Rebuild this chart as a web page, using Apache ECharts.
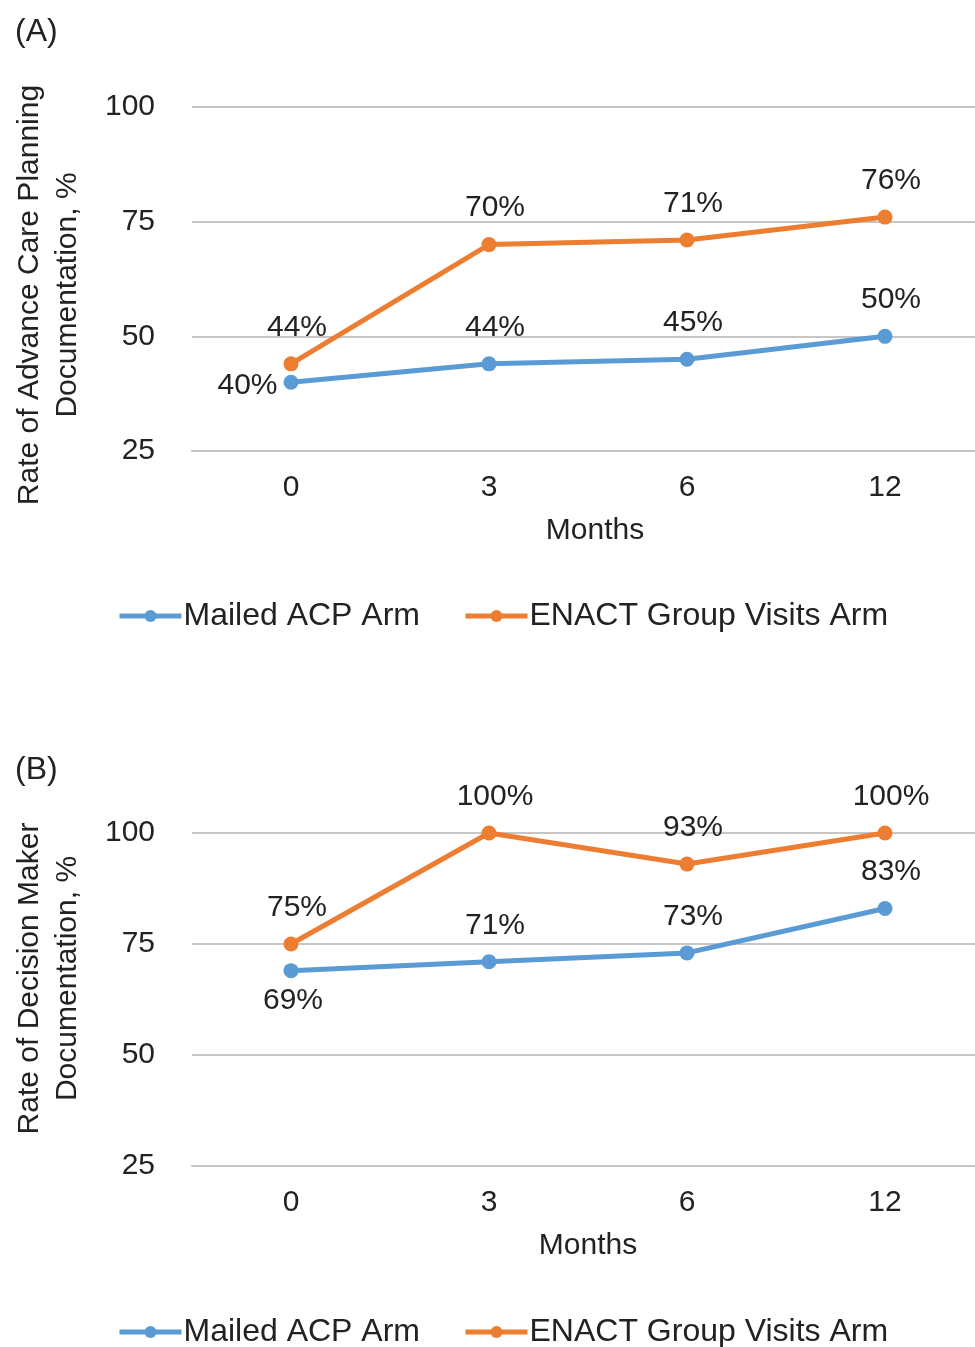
<!DOCTYPE html>
<html>
<head>
<meta charset="utf-8">
<script src="https://cdn.jsdelivr.net/npm/echarts@6/dist/echarts.min.js"></script>
<style>html,body{margin:0;padding:0;background:#fff;}#c{width:975px;height:1347px;}</style>
</head>
<body>
<div id="c"></div>
<script>
const months = ['0', '3', '6', '12'];
const yTicks = [25, 50, 75, 100];
const seriesNames = ['Mailed ACP Arm', 'ENACT Group Visits Arm'];
const acpMailed = [40, 44, 45, 50];
const acpEnact = [44, 70, 71, 76];
const dmMailed = [69, 71, 73, 83];
const dmEnact = [75, 100, 93, 100];
const panelLabels = ['(A)', '(B)'];
const yTitles = ['Rate of Advance Care Planning\nDocumentation, %', 'Rate of Decision Maker\nDocumentation, %'];
const xTitle = 'Months';

const BLUE = '#5b9bd5', ORANGE = '#ed7d31';
const FONT = '"Liberation Sans", Arial, sans-serif';
const FS = 30;
const chart = echarts.init(document.getElementById('c'));

function xAx(gi, namePad) {
  return {
    type: 'category', gridIndex: gi, data: months,
    axisLine: { show: true, lineStyle: { color: '#c6c6c6', width: 2 } },
    axisTick: { show: false },
    axisLabel: { fontFamily: FONT, fontSize: FS, color: '#222', margin: 22 },
    name: xTitle, nameLocation: 'middle', nameGap: 65,
    nameTextStyle: { fontFamily: FONT, fontSize: FS, color: '#222', padding: namePad }
  };
}
function yAx(gi, namePad) {
  return {
    type: 'value', gridIndex: gi, min: yTicks[0], max: yTicks[yTicks.length - 1], interval: 25,
    axisLine: { show: false }, axisTick: { show: false },
    splitLine: { lineStyle: { color: '#c6c6c6', width: 2 } },
    axisLabel: { fontFamily: FONT, fontSize: FS, color: '#222', margin: 37 },
    name: yTitles[gi], nameLocation: 'middle', nameRotate: 90, nameGap: 105,
    nameTextStyle: { fontFamily: FONT, fontSize: FS, color: '#222', lineHeight: 38, padding: namePad }
  };
}
function lbl(pos, extra) {
  return Object.assign({
    show: true, position: pos, distance: 14, offset: [6, 0],
    formatter: p => p.value + '%', fontFamily: FONT, fontSize: FS, color: '#222'
  }, extra || {});
}
function ser(name, data, color, gi, labelCfg) {
  return {
    type: 'line', name: name, data: data, xAxisIndex: gi, yAxisIndex: gi,
    symbol: 'circle', symbolSize: 15, lineStyle: { color: color, width: 5 },
    itemStyle: { color: color }, label: labelCfg, z: 3
  };
}

chart.setOption({
  animation: false,
  grid: [
    { left: 192, top: 107, width: 792, height: 344, outerBoundsMode: 'none', containLabel: false },
    { left: 192, top: 833, width: 792, height: 333, outerBoundsMode: 'none', containLabel: false }
  ],
  xAxis: [xAx(0, [0, 0, 0, 14]), xAx(1, [0, 0, 0, 0])],
  yAxis: [yAx(0, [0, 32, 0, 0]), yAx(1, [0, 0, 0, 42])],
  legend: [0, 1].map(i => ({
    top: i === 0 ? 595 : 1311, left: 112, itemWidth: 62, itemHeight: 15, itemGap: 43,
    data: seriesNames,
    lineStyle: { width: 5 },
    textStyle: { fontFamily: FONT, fontSize: 32, color: '#222', padding: [0, 0, 0, -3] }
  })),
  title: [
    { text: panelLabels[0], left: 10, top: 11, textStyle: { fontFamily: FONT, fontSize: 32, fontWeight: 'normal', color: '#222' } },
    { text: panelLabels[1], left: 10, top: 749, textStyle: { fontFamily: FONT, fontSize: 32, fontWeight: 'normal', color: '#222' } }
  ],
  series: [
    ser(seriesNames[0], acpMailed.map((v, i) => i === 0 ? { value: v, label: { position: 'left', distance: 6, offset: [0, 4] } } : v), BLUE, 0, lbl('top')),
    ser(seriesNames[1], acpEnact, ORANGE, 0, lbl('top')),
    ser(seriesNames[0], dmMailed.map((v, i) => i === 0 ? { value: v, label: { position: 'bottom', distance: 8, offset: [2, 0] } } : v), BLUE, 1, lbl('top')),
    ser(seriesNames[1], dmEnact, ORANGE, 1, lbl('top'))
  ]
});
</script>
</body>
</html>
